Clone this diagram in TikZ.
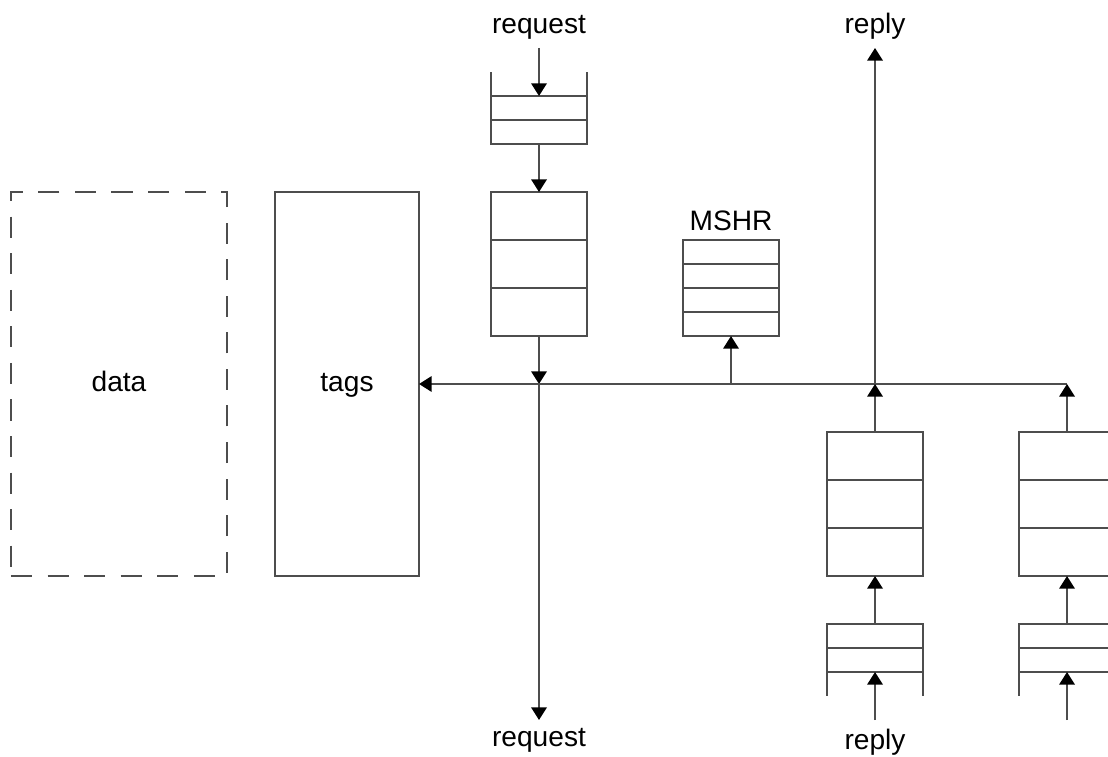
\documentclass[tikz,border=0pt]{standalone}
\usepackage{fontspec}
\setmainfont{Liberation Sans}
\usetikzlibrary{arrows.meta, positioning}
\definecolor{lin}{RGB}{77,77,77}
\tikzstyle{block} = [rectangle, draw=lin, line width=1.4pt, inner sep=0pt, outer sep=0pt]
\tikzstyle{store} = [block, minimum width=5.4cm, minimum height=9.6cm, text height=14.4pt, text depth=4pt, font=\fontsize{20}{24}\selectfont]
\tikzstyle{bigq} = [block, minimum width=2.4cm, minimum height=3.6cm, path picture={
  \foreach \k in {1,2}
    \draw[lin, line width=1.4pt] ([yshift=\k*1.2cm]path picture bounding box.south west) -- ([yshift=\k*1.2cm]path picture bounding box.south east);}]
\tikzstyle{smallq} = [block, minimum width=2.4cm, minimum height=1.2cm, path picture={
  \draw[lin, line width=1.4pt] (path picture bounding box.west) -- (path picture bounding box.east);}]
\tikzstyle{mshrq} = [block, minimum width=2.4cm, minimum height=2.4cm, path picture={
  \foreach \k in {1,2,3}
    \draw[lin, line width=1.4pt] ([yshift=\k*0.6cm]path picture bounding box.south west) -- ([yshift=\k*0.6cm]path picture bounding box.south east);}]
\tikzstyle{lbl} = [font=\fontsize{20}{24}\selectfont, inner sep=6pt]
\tikzstyle{wire} = [draw=lin, line width=1.4pt]
\tikzstyle{arrow} = [wire, -{Triangle[length=9pt, width=11pt, color=black]}]

\begin{document}
\begin{tikzpicture}[x=0.025cm, y=0.025cm]
  \useasboundingbox (0,0) rectangle (1108,756);

  % cache arrays
  \node (data) [store, dash pattern=on 15pt off 11pt] at (119,372) {data};
  \node (tags) [store, minimum width=3.6cm] at (347,372) {tags};

  % request path
  \node (inq) [smallq] at (539,636) {};
  \node (reqq) [bigq, below=1.2cm of inq] {};
  \node (mshr) [mshrq] at (731,468) {};
  \node (mshrlbl) [lbl, above=0pt of mshr] {MSHR};

  % reply path, two ports
  \foreach \x/\n in {875/1, 1067/2} {
    \node (rep\n) [bigq] at (\x,252) {};
    \node (rin\n) [smallq] at (\x,108) {};
    \draw [wire] (rin\n.south west) -- ++(0,-24) (rin\n.south east) -- ++(0,-24);
  }
  \draw [wire] (inq.north west) -- ++(0,24) (inq.north east) -- ++(0,24);

  \node (reqin) [lbl, anchor=south] at (539,708) {request};
  \node (reqout) [lbl, anchor=north] at (539,36) {request};
  \node (repout) [lbl, anchor=south] at (875,708) {reply};
  \node (repin) [lbl, anchor=north] at (875,36) {reply};
  \coordinate (repfree) at (1067,36);
  \coordinate (busend) at (1067,372);

  \draw [arrow] (reqin) -- (inq);
  \draw [arrow] (inq) -- (reqq);
  \draw [arrow] (reqq) -- (reqq.south |- busend);
  \draw [arrow] (reqq.south |- busend) -- (reqout);
  \draw [arrow] (busend) -- (tags);
  \draw [arrow] (mshr.south |- busend) -- (mshr);
  \draw [arrow] (rep1) -- (rep1.north |- busend);
  \draw [arrow] (rep1.north |- busend) -- (repout);
  \draw [arrow] (rep2) -- (busend);
  \draw [arrow] (repin) -- (rin1);
  \draw [arrow] (rin1) -- (rep1);
  \draw [arrow] (repfree) -- (rin2);
  \draw [arrow] (rin2) -- (rep2);
\end{tikzpicture}
\end{document}
